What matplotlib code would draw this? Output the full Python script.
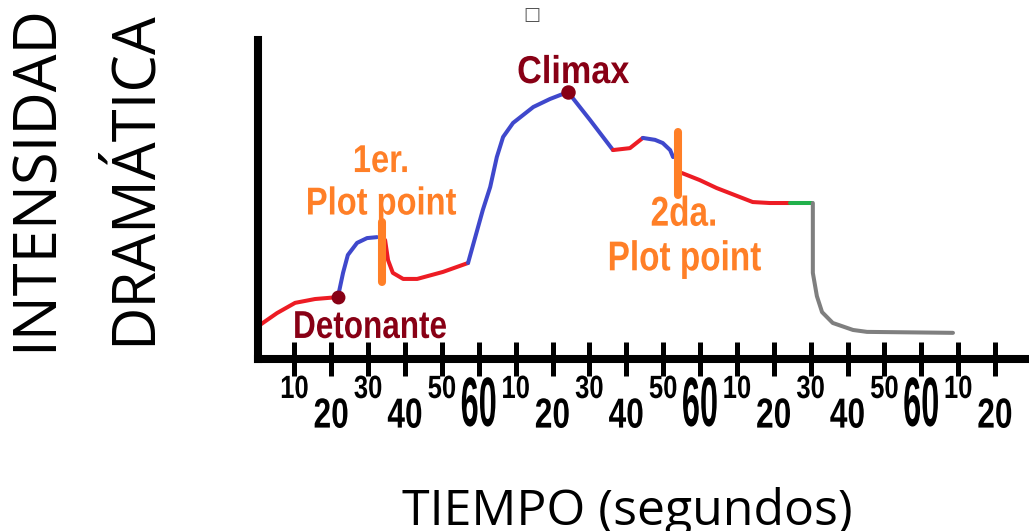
import matplotlib
matplotlib.use("Agg")
import matplotlib.pyplot as plt
from matplotlib.patheffects import AbstractPathEffect
from matplotlib.transforms import Affine2D

# ---- data: time in seconds, intensity 0-100 ----
red1_t = [0.7, 5.3, 10.2, 15.6, 21.8]
red1_i = [10.7, 14.4, 17.6, 18.8, 19.4]
blue1_t = [21.8, 23.2, 24.5, 27.0, 29.7, 32.4]
blue1_i = [19.4, 27.0, 32.6, 36.4, 37.9, 38.2]
red2_t = [34.6, 35.4, 36.7, 39.5, 43.3, 50.3, 57.1]
red2_i = [37.3, 31.0, 27.0, 25.1, 25.1, 27.3, 30.1]
blue2_t = [57.1, 61.1, 63.1, 64.9, 66.6, 69.3, 74.8, 79.3, 84.2, 90.2, 96.4]
blue2_i = [30.1, 46.7, 53.9, 63.3, 69.6, 74.0, 79.0, 81.5, 83.7, 74.9, 65.5]
red3_t = [96.4, 101.0, 104.5]
red3_i = [65.5, 66.1, 69.3]
blue3_t = [104.5, 107.8, 109.9, 111.9, 112.7]
blue3_i = [69.3, 68.7, 67.7, 65.5, 63.3]
red4_t = [115.1, 119.9, 124.5, 129.4, 134.3, 138.9, 144.3]
red4_i = [58.3, 56.1, 53.6, 51.4, 49.2, 48.9, 48.9]
green_t = [144.3, 150.3]
green_i = [48.9, 48.9]
grey_t = [150.6, 150.6, 151.7, 153.1, 156.0, 161.5, 165.3, 188.6]
grey_i = [48.9, 27.0, 19.7, 14.7, 11.3, 9.1, 8.5, 8.2]

# plot points (vertical marks) and key moments
plot_point_t = [33.8, 114.0]
plot_point_lo = [24.1, 51.4]
plot_point_hi = [42.9, 71.2]
detonante = (21.8, 19.4)
climax = (84.2, 83.7)

tick_t = list(range(10, 201, 10))
tick_labels = ["10", "20", "30", "40", "50", "60"] * 3 + ["10", "20"]

RED = "#ed1c24"
BLUE = "#3f48cc"
ORANGE = "#ff7f27"
DARKRED = "#880015"
GREEN = "#22b14c"
GREY = "#7f7f7f"


class Squeeze(AbstractPathEffect):
    """narrow (and optionally stretch) glyphs like the hand lettering"""
    def __init__(self, sx=0.8, sy=1.0):
        super().__init__()
        self.sx, self.sy = sx, sy

    def draw_path(self, renderer, gc, tpath, affine, rgbFace=None):
        ext = tpath.get_extents()
        cx = (ext.x0 + ext.x1) / 2
        sq = Affine2D().translate(-cx, 0).scale(self.sx, self.sy).translate(cx, 0)
        renderer.draw_path(gc, tpath, sq + affine, rgbFace)


W, H = 1029, 531
fig = plt.figure(figsize=(W / 100, H / 100), dpi=100)
x0, y0, ytop = 257.5, 359, 40
px_per_s = 3.6875
ax = fig.add_axes([x0 / W, (H - y0) / H, (W - x0) / W, (y0 - ytop) / H])
ax.set_xlim(0, (W - x0) / px_per_s)
ax.set_ylim(0, 100)

hand = "Liberation Sans"

lw = 2.9
for t, i, c in [(red1_t, red1_i, RED), (blue1_t, blue1_i, BLUE),
                (red2_t, red2_i, RED), (blue2_t, blue2_i, BLUE),
                (red3_t, red3_i, RED), (blue3_t, blue3_i, BLUE),
                (red4_t, red4_i, RED), (green_t, green_i, GREEN),
                (grey_t, grey_i, GREY)]:
    ax.plot(t, i, color=c, lw=lw, solid_capstyle="round",
            solid_joinstyle="round", clip_on=False)

ax.vlines(plot_point_t, plot_point_lo, plot_point_hi, color=ORANGE, lw=5.8,
          capstyle="round", zorder=3)

ax.plot(*detonante, "o", color=DARKRED, ms=9, zorder=4)
ax.plot(*climax, "o", color=DARKRED, ms=9.4, zorder=4)


def hand_text(x, y, s, color, size, sx, sy=1.0, ls=1.2):
    ax.text(x, y, s, color=color, fontsize=size, fontweight="bold",
            family=hand, ha="center", va="baseline", multialignment="center",
            linespacing=ls, path_effects=[Squeeze(sx, sy)])


# annotations
hand_text(85.6, 86.5, "Climax", DARKRED, 28, 0.88)
hand_text(30.5, 6.6, "Detonante", DARKRED, 28, 0.81)
hand_text(33.5, 45.3, "1er.\nPlot point", ORANGE, 28, 0.84, ls=1.23)
hand_text(115.7, 27.8, "2da.\nPlot point", ORANGE, 30, 0.8, ls=1.15)

# axes
for s in ["top", "right"]:
    ax.spines[s].set_visible(False)
for s in ["left", "bottom"]:
    ax.spines[s].set_linewidth(5.8)
    ax.spines[s].set_capstyle("projecting")
ax.set_yticks([])
ax.set_xticks(tick_t, tick_labels)
ax.tick_params(axis="x", direction="inout", length=25, width=3.6,
               color="black")
# hand lettering under the axis: small high, medium low, big "60"
sizes = [19, 24, 19, 24, 19, 26]
pads = [1.9, 19.6, 1.9, 19.6, 1.9, 16.2]
squeeze_x = [0.97, 0.95, 0.97, 0.95, 0.97, 0.9]
squeeze_y = [1.22, 1.26, 1.22, 1.26, 1.22, 1.93]
for k, tick in enumerate(ax.xaxis.get_major_ticks()):
    j = k % 6
    tick.set_pad(pads[j])
    tick.label1.set_fontsize(sizes[j])
    tick.label1.set_fontfamily(hand)
    tick.label1.set_fontweight("bold")
    tick.label1.set_path_effects([Squeeze(squeeze_x[j], squeeze_y[j])])

# axis titles
fig.text(52 / W, 1 - 178 / H, "INTENSIDAD", rotation=90, rotation_mode="anchor",
         ha="center", va="baseline", fontsize=43, family="Open Sans")
fig.text(150 / W, 1 - 178 / H, "DRAMÁTICA", rotation=90, rotation_mode="anchor",
         ha="center", va="baseline", fontsize=43, family="Open Sans")
fig.text(627.5 / W, 1 - 525 / H, "TIEMPO (segundos)", ha="center",
         va="baseline", fontsize=36, family="Open Sans")
fig.text(532 / W, 1 - 15 / H, "\u25a1", ha="center", va="center", fontsize=13,
         color="#555555", family="DejaVu Sans")

fig.savefig("out.png", dpi=100)
